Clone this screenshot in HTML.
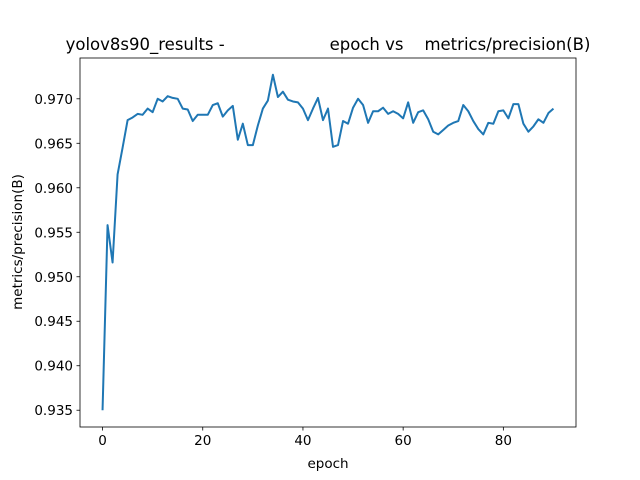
<!DOCTYPE html>
<html><head><meta charset="utf-8"><style>
body{margin:0;background:#fff;}
svg{display:block;font-family:"DejaVu Sans","Liberation Sans",sans-serif;}
</style></head><body>
<svg id="c" width="640" height="480">
<rect x="0" y="0" width="640" height="480" fill="#fff"/>
<g id="ticks"></g>
<path id="line" fill="none" stroke="#1f77b4" stroke-width="2" stroke-linejoin="round"/>
<rect x="80" y="58" width="496" height="369" fill="none" stroke="#000" stroke-width="0.8"/>
<text x="328" y="50" font-size="16.5" text-anchor="middle" xml:space="preserve">yolov8s90_results -                    epoch vs    metrics/precision(B)</text>
<text x="328" y="468" font-size="13.5" text-anchor="middle">epoch</text>
<text transform="translate(22,242) rotate(-90)" font-size="13.5" text-anchor="middle">metrics/precision(B)</text>
</svg>
<script>
const precision=[0.9350,0.9558,0.9516,0.9615,0.9645,0.9676,0.9679,0.9683,0.9682,0.9689,0.9685,
0.9700,0.9697,0.9703,0.9701,0.9700,0.9689,0.9688,0.9675,0.9682,0.9682,
0.9682,0.9693,0.9695,0.9680,0.9687,0.9692,0.9654,0.9672,0.9648,0.9648,
0.9670,0.9689,0.9698,0.9727,0.9702,0.9708,0.9699,0.9697,0.9696,0.9689,
0.9676,0.9689,0.9701,0.9676,0.9689,0.9646,0.9648,0.9675,0.9672,0.9690,
0.9700,0.9693,0.9673,0.9686,0.9686,0.9690,0.9683,0.9686,0.9683,0.9678,
0.9696,0.9673,0.9685,0.9687,0.9677,0.9663,0.9660,0.9665,0.9670,0.9673,
0.9675,0.9693,0.9686,0.9675,0.9666,0.9660,0.9673,0.9672,0.9686,0.9687,
0.9678,0.9694,0.9694,0.9672,0.9663,0.9669,0.9677,0.9673,0.9684,0.9689];
const xTicks=[0,20,40,60,80];
const yTicks=[0.935,0.940,0.945,0.950,0.955,0.960,0.965,0.970];
const L=80,R=576,T=58,B=427;
const n=precision.length;
const xmin=-(n-1)*0.05,xmax=(n-1)*1.05;
const dmin=Math.min(...precision),dmax=Math.max(...precision),dr=dmax-dmin;
const ymin=dmin-dr*0.05,ymax=dmax+dr*0.05;
const X=v=>L+(v-xmin)/(xmax-xmin)*(R-L);
const Y=v=>B-(v-ymin)/(ymax-ymin)*(B-T);
const NS="http://www.w3.org/2000/svg";
const g=document.getElementById('ticks');
function mk(t,a){const e=document.createElementNS(NS,t);for(const k in a)e.setAttribute(k,a[k]);g.appendChild(e);return e;}
xTicks.forEach(t=>{const x=X(t);
const l=mk('line',{x1:x,x2:x,y1:B,y2:B+3.5,stroke:'#000','stroke-width':0.8});


const s=mk('text',{x:x,y:B+18,'font-size':13.5,'text-anchor':'middle'});s.textContent=t;

});
yTicks.forEach(t=>{const y=Y(t);
const l=mk('line',{x1:L-3.5,x2:L,y1:y,y2:y,stroke:'#000','stroke-width':0.8});


const s=mk('text',{x:L-7,y:y+5,'font-size':13.5,'text-anchor':'end'});s.textContent=t.toFixed(3);

});
document.getElementById('line').setAttribute('d',precision.map((v,i)=>(i?'L':'M')+X(i).toFixed(2)+','+Y(v).toFixed(2)).join(''));
</script>
</body></html>
